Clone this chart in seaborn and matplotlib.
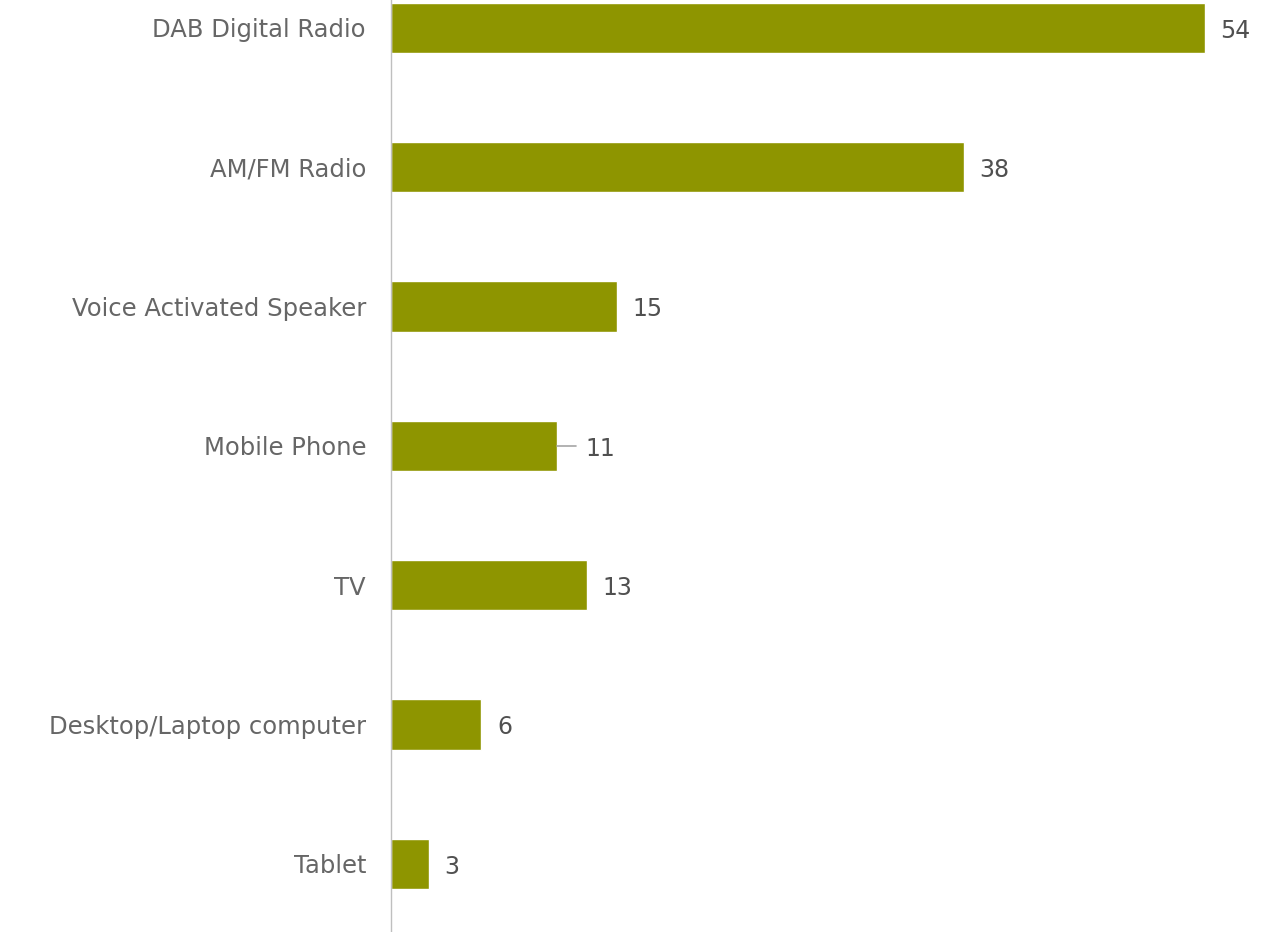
import matplotlib
matplotlib.use("Agg")
import matplotlib.pyplot as plt
import seaborn as sns
import pandas as pd

categories = ["DAB Digital Radio", "AM/FM Radio", "Voice Activated Speaker",
              "Mobile Phone", "TV", "Desktop/Laptop computer", "Tablet"]
values = [54, 38, 15, 11, 13, 6, 2.5]
value_labels = ["54", "38", "15", "11", "13", "6", "3"]

sns.set_theme(style="white")
plt.rcParams['font.family'] = ['DejaVu Sans']

df = pd.DataFrame({"category": categories, "value": values})

fig = plt.figure(figsize=(12.74, 9.32), dpi=100)
ax = fig.add_axes([391/1274, 0.0, 1 - 391/1274, 1.0])
sns.barplot(data=df, y="category", x="value", orient="h", color="#8E9500",
            width=0.36, saturation=1, ax=ax)

ax.set_xlim(0, 58.6)
ax.set_ylim(6.49, -0.2)
ax.set_xlabel("")
ax.set_ylabel("")
ax.set_xticks([])
for s in ["top", "right", "bottom"]:
    ax.spines[s].set_visible(False)
ax.spines["left"].set_color("#BFBFBF")
ax.spines["left"].set_linewidth(1.0)
ax.tick_params(axis="y", length=0, pad=18, labelsize=17.5, labelcolor="#666666")
for t in ax.get_yticklabels():
    t.set_va("center_baseline")

for i, (v, lab) in enumerate(zip(values, value_labels)):
    if categories[i] == "Mobile Phone":
        ax.plot([v, v + 1.3], [i, i], color="#A6A6A6", lw=1.2)
        ax.text(v + 1.9, i + 0.02, lab, va="center", ha="left", fontsize=17,
                color="#505050")
    else:
        ax.text(v + 1.05, i + 0.02, lab, va="center", ha="left", fontsize=17,
                color="#505050")

fig.savefig("out.png", dpi=100)
